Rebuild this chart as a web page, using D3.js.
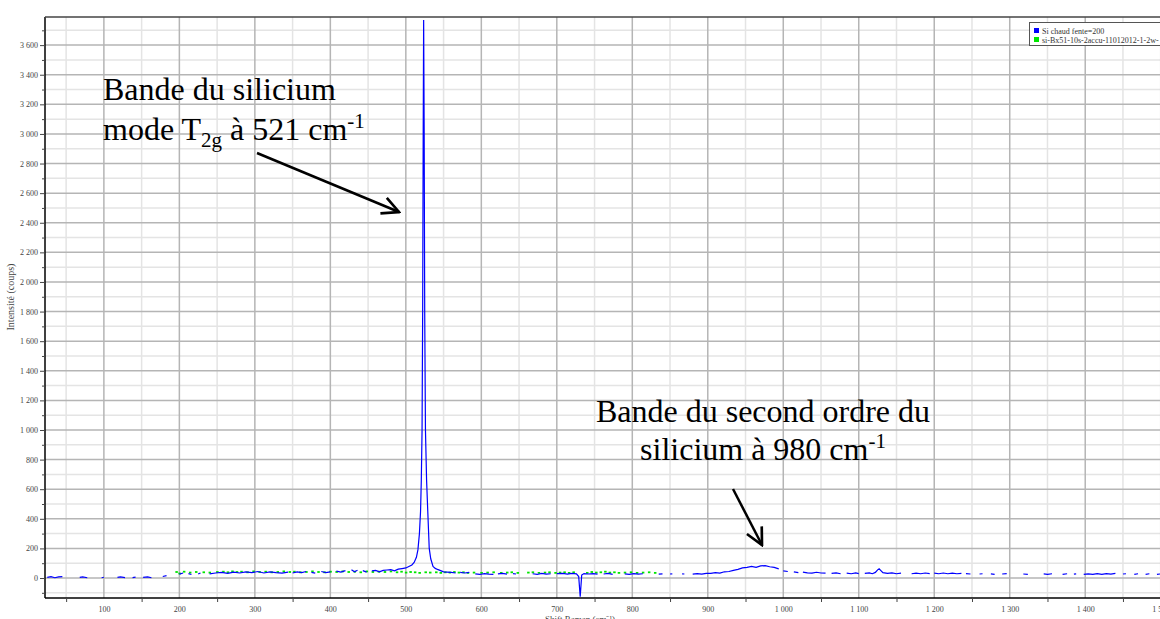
<!DOCTYPE html>
<html><head><meta charset="utf-8">
<script src="https://cdn.jsdelivr.net/npm/d3@7"></script>
<style>body{margin:0;background:#fff}svg{display:block}</style>
</head><body>
<svg id="c" width="1160" height="619"></svg>
<script>
// ---------- data ----------
const xTicks = [100,200,300,400,500,600,700,800,900,1000,1100,1200,1300,1400,1500];
const yTicks = [0,200,400,600,800,1000,1200,1400,1600,1800,2000,2200,2400,2600,2800,3000,3200,3400,3600];
const seriesNames = ["Si chaud fente=200", "si-Bx51-10s-2accu-11012012-1-2w-"];
const seriesColors = ["#0000ff", "#00e600"];
// blue spectrum: [shift, counts], null = gap in the trace
const blueData = [
 [25,4],[30,9],[35,2],[40,8],[45,10],null,
 [68,4],[72,8],[78,2],null,
 [97,2],[100,5],null,
 [118,4],[122,8],[128,3],null,
 [138,3],[142,6],null,
 [152,4],[158,8],[163,2],null,
 [178,10],[183,16],null,
 [200,26],[205,34],null,
 [212,30],[216,24],null,
 [225,28],[228,34],null,
 [240,28],[248,34],[256,38],[264,32],[272,40],[280,34],[288,42],[296,36],[304,44],[312,34],[320,42],[328,36],[336,33],[344,40],null,
 [350,34],[356,42],[362,36],[368,44],null,
 [375,38],[380,33],null,
 [388,44],[394,36],[400,42],null,
 [408,47],[414,40],[420,50],null,
 [428,56],[432,42],[436,52],null,
 [443,50],[448,40],null,
 [455,48],[460,52],[465,42],[470,52],[475,54],[480,56],[485,48],[490,60],[495,64],[500,68],[504,78],[508,88],[511,105],[514,140],[516,190],[518,300],[519.5,450],[520.5,660],[521.5,1000],[522.3,1800],[523,3000],[523.6,3770],[524.3,3000],[525,1800],[526,1000],[527.5,660],[529,460],[531,200],[533,130],[536,78],[539,65],[542,58],[546,50],[550,42],[555,40],[560,38],[566,34],null,
 [572,38],[578,34],[584,38],null,
 [592,28],[598,24],[604,30],[610,26],[616,24],null,
 [622,28],[628,31],[634,26],null,
 [642,30],[646,27],null,
 [668,29],[674,24],[680,31],[686,26],[692,29],null,
 [700,29],[708,31],[714,27],[720,31],[726,28],[729,10],[731,-126],[733,20],[736,30],[742,27],[748,30],[754,26],null,
 [762,27],[768,31],[774,25],null,
 [790,28],[796,25],[802,30],[808,26],[814,29],null,
 [835,26],[840,28],null,
 [850,27],[853,28],null,
 [866,28],[869,27],null,
 [880,26],[886,29],[892,26],[898,31],[904,32],[910,36],[916,33],[922,42],[928,44],[934,52],[940,58],[946,68],[952,72],[958,78],[964,72],[970,82],[976,84],[982,76],[988,72],[994,62],null,
 [1000,48],[1006,44],null,
 [1014,42],[1020,36],null,
 [1026,40],[1032,35],[1038,33],[1044,39],[1050,34],[1056,33],null,
 [1064,31],[1070,35],[1076,29],null,
 [1084,33],[1090,29],[1096,35],[1100,30],null,
 [1108,32],[1114,35],[1118,29],[1122,38],[1125,55],[1127,62],[1129,52],[1132,36],[1138,31],[1144,35],[1150,29],[1156,33],null,
 [1170,29],[1176,33],[1182,29],[1188,34],[1194,30],null,
 [1200,33],[1206,29],[1212,34],[1218,29],[1224,33],[1230,29],[1236,31],null,
 [1242,30],[1248,27],null,
 [1260,27],[1264,29],null,
 [1275,28],[1280,25],null,
 [1290,27],[1296,30],null,
 [1318,27],[1324,24],null,
 [1345,28],[1350,25],[1356,29],null,
 [1370,25],[1376,29],null,
 [1385,26],[1388,28],null,
 [1398,24],[1404,28],[1410,24],[1416,29],[1422,25],[1428,30],[1434,26],[1440,31],null,
 [1450,27],[1454,29],null,
 [1465,25],[1470,29],null,
 [1480,25],[1485,29],null,
 [1495,24],[1500,28]
];
// green spectrum: sparse dots
const greenData = [
 [196,40],[200,30],[206,42],[214,36],[222,40],[232,38],[240,36],[250,40],[258,42],[264,38],[270,44],[276,40],[282,42],[290,38],[298,44],[306,40],[314,42],[322,38],[330,40],[338,44],[346,40],[352,42],[360,38],[368,40],[376,44],[384,40],[392,38],[400,42],[408,40],[416,44],[424,40],[432,42],[440,38],[448,44],[456,40],[464,42],[472,40],[480,44],[488,38],[494,42],[500,36],[506,40],[512,38],[518,34],[526,38],[532,36],[540,38],[546,34],[552,38],[558,36],[564,40],[570,36],[576,38],[582,34],[590,36],[600,34],[608,36],[616,38],[626,34],[634,36],[640,38],[648,34],[662,36],[668,38],[676,34],[684,36],[690,38],[698,34],[704,36],[710,38],[716,34],[722,38],[740,34],[746,40],[752,36],[758,38],[764,42],[770,36],[776,38],[782,34],[790,36],[798,38],[806,34],[814,36],[822,38],[830,34]
];

// ---------- chart ----------
const svg = d3.select("#c");
const L = 45, T = 17, B = 598, R = 1206;
const x = d3.scaleLinear().domain([22, 1560]).range([L, R]);
const y = d3.scaleLinear().domain([-135, 3790]).range([B, T]);
const fmt = v => d3.format(",")(v).replace(/,/g, " ");
const serif = "'Liberation Serif','Times New Roman',serif";

svg.append("clipPath").attr("id","pc").append("rect")
  .attr("x", L).attr("y", T).attr("width", 1160 - L).attr("height", B - T);

const grid = svg.append("g").attr("clip-path","url(#pc)");
// minor grid
const xMinor = d3.range(50, 1600, 100);
const yMinor = d3.range(-100, 3800, 200);
grid.selectAll(".xm").data(xMinor).join("line")
  .attr("x1", d => x(d)).attr("x2", d => x(d)).attr("y1", T).attr("y2", B)
  .attr("stroke", "#e4e4e4").attr("stroke-width", 1.5);
grid.selectAll(".ym").data(yMinor).join("line")
  .attr("y1", d => y(d)).attr("y2", d => y(d)).attr("x1", L).attr("x2", 1160)
  .attr("stroke", "#e4e4e4").attr("stroke-width", 1.5);
// major grid
grid.selectAll(".xM").data(xTicks).join("line")
  .attr("x1", d => x(d)).attr("x2", d => x(d)).attr("y1", T).attr("y2", B)
  .attr("stroke", "#b5b5b5").attr("stroke-width", 1.5);
grid.selectAll(".yM").data(yTicks).join("line")
  .attr("y1", d => y(d)).attr("y2", d => y(d)).attr("x1", L).attr("x2", 1160)
  .attr("stroke", "#b5b5b5").attr("stroke-width", 1.5);

// series
const plot = svg.append("g").attr("clip-path","url(#pc)");
plot.selectAll(".g").data(greenData).join("rect")
  .attr("x", d => x(d[0]) - 1).attr("y", d => y(d[1]) - 1)
  .attr("width", 2.5).attr("height", 1.8).attr("fill", seriesColors[1]);
const line = d3.line().defined(d => d !== null).x(d => x(d[0])).y(d => y(d[1]));
plot.append("path").datum(blueData).attr("d", line)
  .attr("fill","none").attr("stroke", seriesColors[0]).attr("stroke-width", 1.2);

// axes
const yAxis = d3.axisLeft(y).tickValues(yTicks).tickFormat(fmt).tickSize(5).tickPadding(2);
const gy = svg.append("g").attr("transform", `translate(${L},0)`).call(yAxis);
gy.selectAll("text").attr("font-family", serif).attr("font-size", 8).attr("fill", "#444");
gy.selectAll(".tick line").attr("stroke", "#444");
gy.select(".domain").attr("stroke", "#000").attr("stroke-width", 1.5).attr("d", `M0,${T}V${B}`);
svg.append("g").attr("transform", `translate(${L},0)`)
  .call(d3.axisLeft(y).tickValues(yMinor).tickFormat("").tickSize(3))
  .call(g => g.select(".domain").remove())
  .selectAll("line").attr("stroke", "#444");

const xAxis = d3.axisBottom(x).tickValues(xTicks).tickFormat(fmt).tickSize(0).tickPadding(8);
const gx = svg.append("g").attr("transform", `translate(0,${B})`).call(xAxis);
gx.selectAll("text").attr("font-family", serif).attr("font-size", 8).attr("fill", "#444");
gx.select(".domain").attr("stroke", "#000").attr("stroke-width", 1.5).attr("d", `M${L},0H1160`);
svg.append("g").attr("transform", `translate(0,${B})`)
  .call(d3.axisBottom(x).tickValues(xMinor.filter(v => v > 22)).tickFormat("").tickSize(4))
  .call(g => g.select(".domain").remove())
  .selectAll("line").attr("stroke", "#444");

// top border
svg.append("line").attr("x1", L).attr("x2", 1160).attr("y1", T).attr("y2", T)
  .attr("stroke", "#444").attr("stroke-width", 1.5);

// axis titles
svg.append("text").attr("x", 580).attr("y", 622).attr("text-anchor","middle")
  .attr("font-family", serif).attr("font-size", 9).attr("fill","#444")
  .text("Shift Raman (cm⁻¹)");
svg.append("text").attr("transform","translate(14,297) rotate(-90)").attr("text-anchor","middle")
  .attr("font-family", serif).attr("font-size", 10).attr("fill","#444")
  .text("Intensité (coups)");

// legend
const lg = svg.append("g");
lg.append("rect").attr("x", 1029.5).attr("y", 22.5).attr("width", 140).attr("height", 23)
  .attr("fill", "#fff").attr("stroke", "#555");
seriesNames.forEach((n, i) => {
  lg.append("rect").attr("x", 1034).attr("y", 28 + i*9).attr("width", 5).attr("height", 5).attr("fill", seriesColors[i]);
  lg.append("text").attr("x", 1042).attr("y", 33.5 + i*9).attr("font-family", serif)
    .attr("font-size", 8).attr("fill", "#333").text(n);
});

// annotations
const ann = svg.append("g").attr("font-family", serif).attr("fill", "#000");
ann.append("text").attr("x", 103).attr("y", 100).attr("font-size", 32).text("Bande du silicium");
const t2 = ann.append("text").attr("x", 103).attr("y", 140).attr("font-size", 32);
t2.append("tspan").text("mode T");
t2.append("tspan").attr("font-size", 21).attr("dy", 7).text("2g");
t2.append("tspan").attr("dy", -7).text(" à 521 cm");
t2.append("tspan").attr("font-size", 21).attr("dy", -12).text("-1");
ann.append("text").attr("x", 763).attr("y", 422).attr("font-size", 32).attr("text-anchor","middle")
  .text("Bande du second ordre du");
const t4 = ann.append("text").attr("x", 763).attr("y", 460).attr("font-size", 32).attr("text-anchor","middle");
t4.append("tspan").text("silicium à 980 cm");
t4.append("tspan").attr("font-size", 21).attr("dy", -12).text("-1");

svg.append("defs").append("marker").attr("id","ah").attr("viewBox","0 0 12 12")
  .attr("refX", 11).attr("refY", 6).attr("markerWidth", 8).attr("markerHeight", 8)
  .attr("markerUnits","strokeWidth").attr("orient","auto")
  .append("path").attr("d","M1,1 L11,6 L1,11").attr("fill","none").attr("stroke","#000").attr("stroke-width", 1.6);
svg.append("line").attr("x1", 257).attr("y1", 153).attr("x2", 399).attr("y2", 212)
  .attr("stroke","#000").attr("stroke-width", 2.5).attr("marker-end","url(#ah)");
svg.append("line").attr("x1", 733).attr("y1", 489).attr("x2", 762).attr("y2", 545)
  .attr("stroke","#000").attr("stroke-width", 2.5).attr("marker-end","url(#ah)");
</script>
</body></html>
